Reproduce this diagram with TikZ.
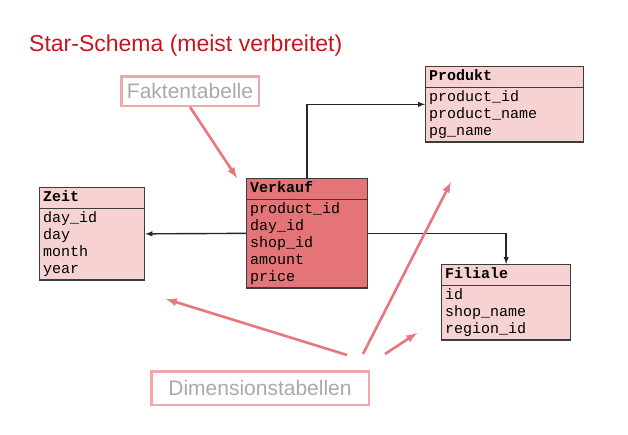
\documentclass[tikz,border=0pt]{standalone}
\usepackage{fontspec}
\setmainfont{Liberation Sans}
\setmonofont{Liberation Mono}
\usetikzlibrary{arrows}
\usetikzlibrary{shapes.multipart, positioning}
\definecolor{sred}{RGB}{200,20,30}
\definecolor{factfill}{RGB}{228,116,120}
\definecolor{dimfill}{RGB}{247,210,211}
\definecolor{tline}{RGB}{60,60,60}
\definecolor{noteline}{RGB}{240,168,170}
\definecolor{notearrow}{RGB}{232,118,124}
\definecolor{notetext}{RGB}{168,168,175}

\newcommand{\fld}[1]{\strut #1}

\tikzset{
  dbtable/.style={rectangle split, rectangle split parts=2, draw=tline,
    line width=1.3pt, anchor=north west, align=left, inner xsep=3.5pt,
    inner ysep=1.2pt, font=\ttfamily\fontsize{15}{17}\selectfont},
  conn/.style={draw=black!85, line width=1.4pt, -latex},
  note/.style={draw=noteline, line width=2.5pt, text=notetext, inner sep=0pt,
    font=\fontsize{21}{25}\selectfont},
  pointer/.style={draw=notearrow, line width=2.6pt, -latex}
}

\begin{document}
\begin{tikzpicture}[x=1pt, y=-1pt]

\useasboundingbox (0,0) rectangle (628,434);

\node[anchor=base west, inner sep=0pt, text=sred,
  font=\fontsize{23}{27}\selectfont] (title) at (29,51) {Star-Schema (meist verbreitet)};

% tables
\node[dbtable, fill=dimfill, text width=151pt] (produkt) at (425,66)
  {\strut\textbf{Produkt}
   \nodepart{two}\fld{product\_id}\\\fld{product\_name}\\\fld{pg\_name}};
\node[dbtable, fill=factfill, text width=114pt] (verkauf) at (246,178)
  {\strut\textbf{Verkauf}
   \nodepart{two}\fld{product\_id}\\\fld{day\_id}\\\fld{shop\_id}\\\fld{amount}\\\fld{price}};
\node[dbtable, fill=dimfill, text width=98pt] (zeit) at (39,187)
  {\strut\textbf{Zeit}
   \nodepart{two}\fld{day\_id}\\\fld{day}\\\fld{month}\\\fld{year}};
\node[dbtable, fill=dimfill, text width=122pt] (filiale) at (441,264)
  {\strut\textbf{Filiale}
   \nodepart{two}\fld{id}\\\fld{shop\_name}\\\fld{region\_id}};

\draw[conn] (verkauf.north) |- (produkt.west);
\draw[conn] (verkauf.west) -- (zeit.east);
\draw[conn] (verkauf.east) -| (filiale.north);

% notes
\node[note, minimum width=137.5pt, minimum height=29.5pt] (fakt) at (190,91) {Faktentabelle};
\node[note, minimum width=217.5pt, minimum height=33.5pt] (dim) at (260,388) {Dimensionstabellen};

\coordinate (fakt tip) at (237,178);
\coordinate (dim a) at (347,355);
\coordinate (dim b) at (363,354);
\coordinate (dim c) at (385,354);
\coordinate (zeit tip) at (166,299);
\coordinate (produkt tip) at (451,182);
\coordinate (filiale tip) at (417,333);

\draw[pointer] (fakt.south) -- (fakt tip);
\draw[pointer] (dim a) -- (zeit tip);
\draw[pointer] (dim b) -- (produkt tip);
\draw[pointer] (dim c) -- (filiale tip);

\end{tikzpicture}
\end{document}
